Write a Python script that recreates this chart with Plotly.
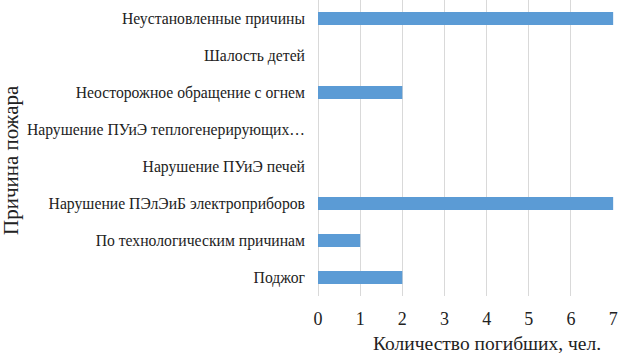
import plotly.graph_objects as go

categories = [
    "Поджог",
    "По технологическим причинам",
    "Нарушение ПЭлЭиБ электроприборов",
    "Нарушение ПУиЭ печей",
    "Нарушение ПУиЭ теплогенерирующих…",
    "Неосторожное обращение с огнем",
    "Шалость детей",
    "Неустановленные причины",
]
values = [2, 1, 7, 0, 0, 2, 0, 7]
x_ticks = [0, 1, 2, 3, 4, 5, 6, 7]
x_title = "Количество погибших, чел."
y_title = "Причина пожара"

W, H = 618, 354
L, R, T, B = 318, 4, 0, 58

fig = go.Figure(go.Bar(
    x=values, y=categories, orientation="h",
    marker=dict(color="#5B9BD5", line=dict(width=0)),
    width=0.35, hoverinfo="skip",
))

font = "Liberation Serif, Times New Roman, serif"
fig.update_layout(
    width=W, height=H,
    margin=dict(l=L, r=R, t=T, b=B, autoexpand=False),
    paper_bgcolor="white", plot_bgcolor="white",
    font=dict(family=font, color="#222222"),
    showlegend=False,
    xaxis=dict(
        range=[0, 7.02], tickvals=x_ticks, ticktext=[str(v) for v in x_ticks],
        showgrid=True, gridcolor="#D9D9D9", gridwidth=1,
        zeroline=True, zerolinecolor="#D9D9D9", zerolinewidth=1,
        showline=False, ticks="", ticklabelstandoff=10,
        tickfont=dict(size=18, family=font, color="#222222"),
        fixedrange=True,
    ),
    yaxis=dict(
        categoryorder="array", categoryarray=categories,
        range=[-0.5, 7.5],
        showgrid=False, zeroline=False, showline=False, ticks="",
        ticklabelstandoff=12,
        tickfont=dict(size=15.7, family=font, color="#222222"),
        fixedrange=True,
    ),
    annotations=[
        dict(text=x_title, xref="paper", yref="paper",
             x=(487 - L) / (W - L - R), y=-(343.5 - (H - B)) / (H - T - B),
             xanchor="center", yanchor="middle", showarrow=False,
             font=dict(size=19.5, family=font, color="#222222")),
        dict(text=y_title, xref="paper", yref="paper",
             x=-(L - 11) / (W - L - R), y=(H - B - 160) / (H - T - B),
             xanchor="center", yanchor="middle", showarrow=False, textangle=-90,
             font=dict(size=21, family=font, color="#222222")),
    ],
)

fig.write_html("out.html", config={"displayModeBar": False, "staticPlot": True},
               post_script="document.body.style.margin='0';document.body.style.overflow='hidden';")
